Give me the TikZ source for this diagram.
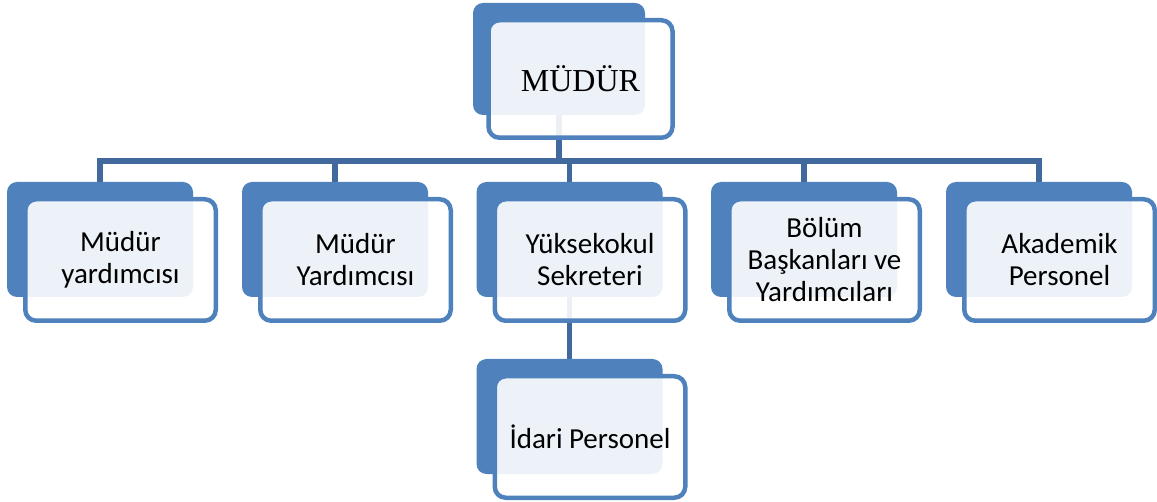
\documentclass[tikz,border=0pt]{standalone}
\usepackage{fontspec}
\setmainfont{Liberation Serif}
\newfontfamily\calfont{Carlito}
\definecolor{boxblue}{HTML}{4F81BD}
\definecolor{linkblue}{HTML}{41699E}
\pgfdeclarelayer{bg}
\pgfsetlayers{bg,main}
\begin{document}
\begin{tikzpicture}[x=1pt,y=-1pt,
  backbox/.style={rectangle,rounded corners=10pt,fill=boxblue,draw=none,
    minimum width=186pt,minimum height=115pt,inner sep=0pt},
  frontbox/.style={rectangle,rounded corners=11pt,fill=white,fill opacity=0.9,text opacity=1,
    draw=boxblue,line width=4.5pt,minimum width=190.5pt,minimum height=121.5pt,
    inner sep=0pt,align=center,text width=184pt,
    font=\calfont\fontsize{29}{32}\selectfont,
    execute at begin node={\spaceskip=0.22em\relax}},
  link/.style={draw=linkblue,line width=5.5pt}]
\useasboundingbox (0,0) rectangle (1157,502);
% top
\node[backbox,minimum width=172pt,minimum height=112pt] (b0) at (559,59) {};
\node[frontbox,minimum width=178.5pt,minimum height=117.5pt,
  font=\rmfamily\fontsize{32}{36}\selectfont] (f0) at (580.5,79) {MÜDÜR};
% level 2
\node[backbox] (b1) at (100,239.5) {};
\node[frontbox] (f1) at (120.5,260) {Müdür\\yardımcısı};
\node[backbox] (b2) at (335,239.5) {};
\node[frontbox] (f2) at (355.5,260) {Müdür\\Yardımcısı};
\node[backbox] (b3) at (569.5,239.5) {};
\node[frontbox] (f3) at (590,260) {Yüksekokul\\Sekreteri};
\node[backbox] (b4) at (804,239.5) {};
\node[frontbox] (f4) at (824.5,260) {Bölüm\\Başkanları ve\\Yardımcıları};
\node[backbox] (b5) at (1039,239.5) {};
\node[frontbox] (f5) at (1059.5,260) {Akademik\\Personel};
% level 3
\node[backbox] (b6) at (569.5,416.5) {};
\node[frontbox] (f6) at (590,437) {İdari Personel};
% connectors
\coordinate (hub) at (559,161);
\begin{pgfonlayer}{bg}
  \draw[link] (b0.center) -- (hub);
  \draw[link] (b1.north) -- (b1.north |- hub) -- (b5.north |- hub) -- (b5.north);
  \foreach \k in {b2,b3,b4} \draw[link] (\k.north |- hub) -- (\k.north);
  \draw[link] (b3.center) -- (b6.north);
\end{pgfonlayer}
\end{tikzpicture}
\end{document}
